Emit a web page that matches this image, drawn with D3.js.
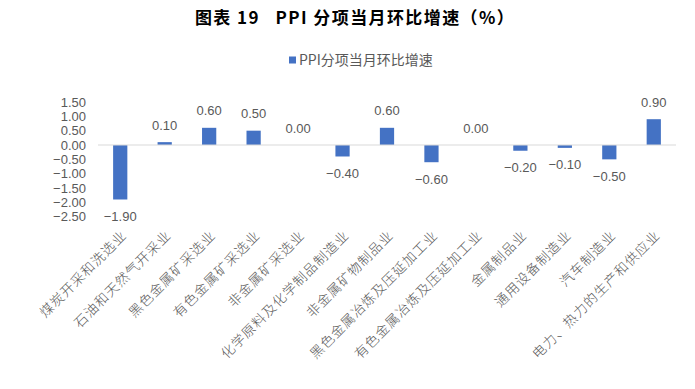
<!DOCTYPE html>
<html>
<head>
<meta charset="utf-8">
<script src="https://cdn.jsdelivr.net/npm/d3@7"></script>
<style>
body { margin: 0; background: #fff; }
text { font-family: "Noto Sans CJK SC", "Noto Sans", sans-serif; }
</style>
</head>
<body>
<svg width="695" height="389"></svg>
<script>
const categories = ["煤炭开采和洗选业", "石油和天然气开采业", "黑色金属矿采选业", "有色金属矿采选业",
    "非金属矿采选业", "化学原料及化学制品制造业", "非金属矿物制品业", "黑色金属冶炼及压延加工业",
    "有色金属冶炼及压延加工业", "金属制品业", "通用设备制造业", "汽车制造业", "电力、热力的生产和供应业"];
const values = [-1.90, 0.10, 0.60, 0.50, 0.00, -0.40, 0.60, -0.60, 0.00, -0.20, -0.10, -0.50, 0.90];
const yTicks = [1.5, 1.0, 0.5, 0, -0.5, -1.0, -1.5, -2.0, -2.5];
const seriesName = "PPI分项当月环比增速";
const titleText = "图表 19   PPI 分项当月环比增速（%）";

const svg = d3.select("svg");
const grey = "#595959";
const barColor = "#4472C4";

// scales
const x = d3.scaleBand().domain(categories).range([98, 676]).paddingInner(0.68).paddingOuter(0.34);
const y = d3.scaleLinear().domain([-2.5, 1.5]).range([216.7, 102]);

// title
svg.append("text")
    .attr("x", 355).attr("y", 24)
    .attr("text-anchor", "middle")
    .style("white-space", "pre")
    .style("font-size", "17px")
    .style("font-weight", "bold")
    .style("letter-spacing", "1.4px")
    .style("fill", "#000")
    .text(titleText);

// legend
const lg = svg.append("g").attr("transform", "translate(289,60)");
lg.append("rect").attr("x", 0).attr("y", -3.5).attr("width", 7).attr("height", 7).attr("fill", barColor);
lg.append("text").attr("x", 10).attr("y", 5)
    .style("font-size", "14px").style("fill", grey).text(seriesName);

// y axis labels
const yAxis = svg.append("g")
    .attr("transform", "translate(86,0)")
    .call(d3.axisLeft(y).tickValues(yTicks).tickFormat(d3.format(".2f")).tickSize(0).tickPadding(0));
yAxis.select(".domain").remove();
yAxis.selectAll("text").style("font-size", "13px").style("fill", grey)
    .style("font-family", "'Liberation Sans', sans-serif");

// bars
svg.selectAll("rect.bar")
    .data(values)
    .join("rect")
    .attr("class", "bar")
    .attr("x", (d, i) => x(categories[i]))
    .attr("width", x.bandwidth())
    .attr("y", d => y(Math.max(0, d)))
    .attr("height", d => Math.abs(y(d) - y(0)))
    .attr("fill", barColor);

// zero line
svg.append("line")
    .attr("x1", 98).attr("x2", 676)
    .attr("y1", y(0)).attr("y2", y(0))
    .attr("stroke", "#D9D9D9").attr("stroke-width", 1);

// data labels
svg.selectAll("text.val")
    .data(values)
    .join("text")
    .attr("class", "val")
    .attr("x", (d, i) => x(categories[i]) + x.bandwidth() / 2)
    .attr("y", d => d >= 0 ? y(d) - 17 : y(d) + 17)
    .attr("dy", "0.35em")
    .attr("text-anchor", "middle")
    .style("font-size", "13px")
    .style("fill", grey)
    .style("font-family", "'Liberation Sans', sans-serif")
    .text(d => d3.format(".2f")(d));

// category labels
svg.selectAll("text.cat")
    .data(categories)
    .join("text")
    .attr("class", "cat")
    .attr("transform", d => "translate(" + (x(d) + x.bandwidth() / 2 + 4) + ",233) rotate(-45)")
    .attr("text-anchor", "end")
    .attr("dy", "0.35em")
    .style("font-size", "13.5px")
    .style("letter-spacing", "1px")
    .style("font-weight", "300")
    .style("fill", grey)
    .text(d => d);
</script>
</body>
</html>
